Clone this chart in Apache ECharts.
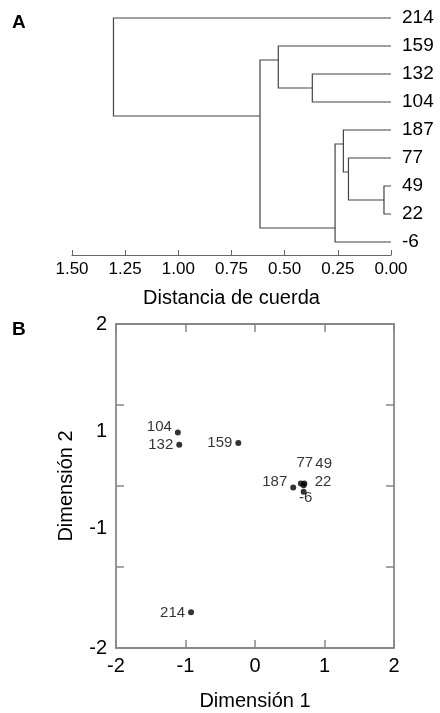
<!DOCTYPE html>
<html>
<head>
<meta charset="utf-8">
<script src="https://cdn.jsdelivr.net/npm/echarts@6/dist/echarts.min.js"></script>
<style>html,body{margin:0;padding:0;background:#fff}#c{width:440px;height:713px}</style>
</head>
<body>
<div id="c"></div>
<script>
// ---- Panel A: dendrogram data ----
var leaves = ['214', '159', '132', '104', '187', '77', '49', '22', '-6'];
// merges: children refer to leaf index (0..8) or 'n' + merge index
var mergeA = [6, 5, 4, 'n2', 2, 1, 'n5', 0];
var mergeB = [7, 'n0', 'n1', 8, 3, 'n4', 'n3', 'n6'];
var mergeHeight = [0.033, 0.20, 0.224, 0.263, 0.37, 0.53, 0.616, 1.305];
var mergePos = [6.5, 5.5, 4.5, 7.5, 2.5, 1.5, 3.5, 1.75];

// ---- Panel B: MDS scatter data ----
var pointNames = ['104', '132', '159', '187', '77', '49', '22', '-6', '214'];
var dim1 = [-1.11, -1.09, -0.24, 0.55, 0.66, 0.71, 0.70, 0.70, -0.92];
var dim2 = [0.66, 0.51, 0.53, -0.02, 0.03, 0.03, 0.01, -0.07, -1.56];
var yLabelAt = [2, 0.67, -0.53, -2];
var yLabelText = ['2', '1', '-1', '-2'];

function childInfo(c) {
  if (typeof c === 'number') return [0, c];
  var k = +c.slice(1);
  return [mergeHeight[k], mergePos[k]];
}
var dendroData = mergeHeight.map(function (h, i) {
  var a = childInfo(mergeA[i]), b = childInfo(mergeB[i]);
  return [h, mergePos[i], a[0], a[1], b[0], b[1]];
});

var labelStyle = {
  '104': { position: 'left', offset: [0, -6] },
  '132': { position: 'left', offset: [0, 0] },
  '159': { position: 'left', offset: [0, 0] },
  '187': { position: 'left', offset: [0, -6] },
  '214': { position: 'left', offset: [0, 0] },
  '77': { position: 'top', offset: [4, -7] },
  '49': { position: 'right', offset: [5, -20] },
  '22': { position: 'right', offset: [5, -3] },
  '-6': { position: 'bottom', offset: [2, -7] }
};
var scatterData = pointNames.map(function (n, i) {
  var s = labelStyle[n];
  return { name: n, value: [dim1[i], dim2[i]], label: { position: s.position, offset: s.offset, distance: 3 } };
});

var FONT = 'Liberation Sans, Arial, sans-serif';
var chart = echarts.init(document.getElementById('c'), null, { renderer: 'canvas' });
chart.setOption({
  animation: false,
  backgroundColor: '#fff',
  textStyle: { fontFamily: FONT },
  title: [
    { text: 'A', left: 7, top: 8, textStyle: { fontSize: 19, fontWeight: 'bold', color: '#000', fontFamily: FONT } },
    { text: 'B', left: 7, top: 315, textStyle: { fontSize: 19, fontWeight: 'bold', color: '#000', fontFamily: FONT } }
  ],
  grid: [
    { left: 72, right: 49, top: 18, height: 224 },
    { left: 116, right: 46, top: 324, height: 324 }
  ],
  xAxis: [
    {
      gridIndex: 0, type: 'value', inverse: true, min: 0, max: 1.5, interval: 0.25,
      position: 'bottom', offset: 13,
      axisLine: { show: true, onZero: false, lineStyle: { color: '#666', width: 1.2 } },
      axisTick: { show: true, inside: true, length: 5, lineStyle: { color: '#666' } },
      axisLabel: { fontSize: 17, color: '#000', margin: 6, formatter: function (v) { return v.toFixed(2); } },
      splitLine: { show: false },
      name: 'Distancia de cuerda', nameLocation: 'middle', nameGap: 33,
      nameTextStyle: { fontSize: 20, color: '#000' }
    },
    {
      gridIndex: 1, type: 'value', min: -2, max: 2, interval: 1, position: 'bottom',
      axisLine: { show: true, onZero: false, lineStyle: { color: '#888', width: 1.8 } },
      axisTick: { show: true, inside: true, length: 8, lineStyle: { color: '#888', width: 1.5 } },
      axisLabel: { fontSize: 20, color: '#000', margin: 8 },
      splitLine: { show: false },
      name: 'Dimensión 1', nameLocation: 'middle', nameGap: 43,
      nameTextStyle: { fontSize: 20, color: '#000' }
    },
    {
      gridIndex: 1, type: 'value', min: -2, max: 2, interval: 1, position: 'top',
      axisLine: { show: true, onZero: false, lineStyle: { color: '#888', width: 1.8 } },
      axisTick: { show: true, inside: true, length: 8, lineStyle: { color: '#888', width: 1.5 } },
      axisLabel: { show: false },
      splitLine: { show: false }
    }
  ],
  yAxis: [
    {
      gridIndex: 0, type: 'value', inverse: true, min: 0, max: 8, interval: 1, position: 'right',
      axisLine: { show: false }, axisTick: { show: false }, splitLine: { show: false },
      axisLabel: { fontSize: 19, color: '#000', margin: 11, formatter: function (v) { return leaves[v]; } }
    },
    {
      gridIndex: 1, type: 'value', min: -2, max: 2, interval: 1, position: 'left',
      axisLine: { show: true, onZero: false, lineStyle: { color: '#888', width: 1.8 } },
      axisTick: { show: true, inside: true, length: 8, customValues: [-1, 0, 1], lineStyle: { color: '#888', width: 1.5 } },
      axisLabel: {
        fontSize: 20, color: '#000', margin: 9, customValues: yLabelAt,
        formatter: function (v) { var i = yLabelAt.indexOf(v); return i >= 0 ? yLabelText[i] : ''; }
      },
      splitLine: { show: false },
      name: 'Dimensión 2', nameLocation: 'middle', nameGap: 40, nameRotate: 90,
      nameTextStyle: { fontSize: 20, color: '#000' }
    },
    {
      gridIndex: 1, type: 'value', min: -2, max: 2, interval: 1, position: 'right',
      axisLine: { show: true, onZero: false, lineStyle: { color: '#888', width: 1.8 } },
      axisTick: { show: true, inside: true, length: 8, lineStyle: { color: '#888', width: 1.5 } },
      axisLabel: { show: false },
      splitLine: { show: false }
    }
  ],
  series: [
    {
      type: 'custom', xAxisIndex: 0, yAxisIndex: 0, silent: true,
      data: dendroData,
      encode: { x: 0, y: 1 },
      renderItem: function (params, api) {
        var h = api.value(0), ya = api.value(3), yb = api.value(5);
        var ha = api.value(2), hb = api.value(4);
        var pts = [api.coord([ha, ya]), api.coord([h, ya]), api.coord([h, yb]), api.coord([hb, yb])];
        return { type: 'polyline', shape: { points: pts }, style: { stroke: '#444', lineWidth: 1.2, fill: null } };
      }
    },
    {
      type: 'scatter', xAxisIndex: 1, yAxisIndex: 1,
      symbol: 'circle', symbolSize: 6,
      itemStyle: { color: '#000' },
      label: { show: true, formatter: '{b}', fontSize: 15, color: '#000' },
      data: scatterData
    }
  ]
});
</script>
</body>
</html>
